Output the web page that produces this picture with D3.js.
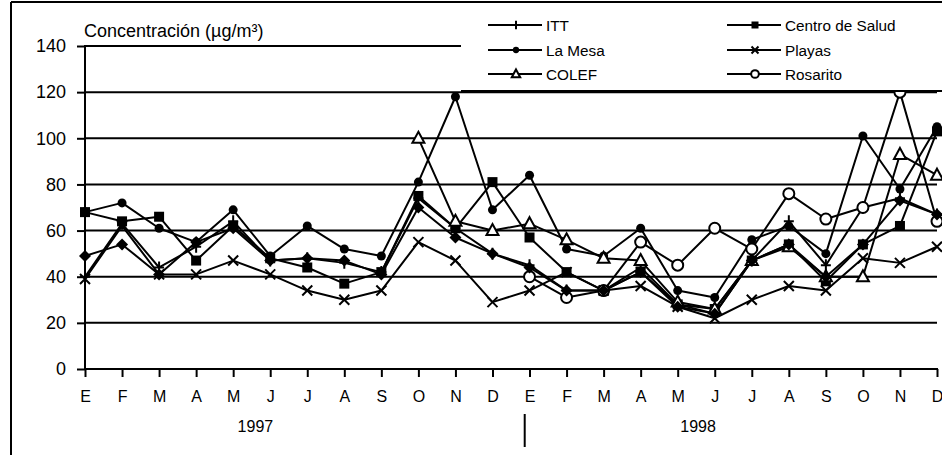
<!DOCTYPE html>
<html><head><meta charset="utf-8">
<script src="https://cdn.jsdelivr.net/npm/d3@7"></script>
<style>
html,body{margin:0;padding:0;background:#fff;}
svg{display:block;font-family:"Liberation Sans",Arial,sans-serif;}
</style></head>
<body>
<svg id="c" width="942" height="455"></svg>
<script>
// ---- data ----
const months = ["E","F","M","A","M","J","J","A","S","O","N","D","E","F","M","A","M","J","J","A","S","O","N","D"];
const years = ["1997","1998"];
const yTicks = [0,20,40,60,80,100,120,140];
const yTitle = "Concentración (µg/m³)";

const itt      = [40,63,44,53,64,47,48,46,42,74,61,50,45,34,34,44,28,24,47,64,45,70,74,67];
const centro   = [68,64,66,47,62,48,44,37,42,75,61,81,57,42,34,42,28,26,47,54,38,54,62,103];
const laMesa   = [68,72,61,55,69,49,62,52,49,81,118,69,84,52,49,61,34,31,56,62,50,101,78,105];
const playas   = [39,62,41,41,47,41,34,30,34,55,47,29,34,42,34,36,27,22,30,36,34,48,46,53];
const colef    = [null,null,null,null,null,null,null,null,null,100,64,60,63,56,48,47,29,26,47,53,40,40,93,84];
const rosarito = [null,null,null,null,null,null,null,null,null,null,null,null,40,31,34,55,45,61,52,76,65,70,120,64];
const sinLeyenda = [49,54,41,55,61,47,48,47,41,70,57,50,44,34,34,42,27,24,47,54,40,54,73,67];

const seriesNames = ["ITT","Centro de Salud","La Mesa","Playas","COLEF","Rosarito"];
const seriesValues = [itt, centro, laMesa, playas, colef, rosarito];
const seriesMarkers = ["plus","square","circle","times","triangle","ocircle"];

// ---- chart ----
const svg = d3.select("#c");
const x = d3.scalePoint().domain(d3.range(months.length)).range([85, 937]);
const xl = d3.scaleLinear().domain([0, months.length - 1]).range([85, 937]);
const y = d3.scaleLinear().domain([0, 140]).range([369, 46]);

// outer frame
svg.append("line").attr("x1",11).attr("x2",942).attr("y1",2).attr("y2",2).attr("stroke","#000").attr("stroke-width",2);
svg.append("line").attr("x1",11).attr("x2",11).attr("y1",2).attr("y2",455).attr("stroke","#000").attr("stroke-width",2);

// gridlines
svg.append("g").selectAll("line").data(yTicks.filter(d => d > 0)).join("line")
  .attr("x1", 85).attr("x2", 937)
  .attr("y1", d => y(d)).attr("y2", d => y(d))
  .attr("stroke", "#000").attr("stroke-width", 2);

// y axis
const ya = svg.append("g").attr("transform","translate(85,0)")
  .call(d3.axisLeft(y).tickValues(yTicks).tickSize(8).tickPadding(11));
ya.select(".domain").remove();
ya.selectAll(".tick line").attr("stroke","#000").attr("stroke-width",2);
ya.selectAll(".tick text").attr("font-size",18).attr("fill","#000")
  .attr("font-family","Liberation Sans, Arial, sans-serif");
svg.append("line").attr("x1",85).attr("x2",85).attr("y1",y(140)-1).attr("y2",y(0)+1).attr("stroke","#000").attr("stroke-width",2);

// x axis
const xa = svg.append("g").attr("transform",`translate(0,${y(0)})`)
  .call(d3.axisBottom(x).tickSize(8).tickPadding(14).tickFormat(i => months[i]));
xa.select(".domain").remove();
xa.selectAll(".tick line").attr("stroke","#000").attr("stroke-width",2);
xa.selectAll(".tick text").attr("font-size",16).attr("fill","#000")
  .attr("font-family","Liberation Sans, Arial, sans-serif");
svg.append("line").attr("x1",84).attr("x2",938).attr("y1",y(0)).attr("y2",y(0)).attr("stroke","#000").attr("stroke-width",2);

// year labels and separator
const yearPos = [4.6, 16.55];
svg.append("g").selectAll("text").data(years).join("text")
  .attr("x", (d,i) => xl(yearPos[i])).attr("y", 426)
  .attr("text-anchor","middle").attr("dominant-baseline","central")
  .attr("font-size",16).attr("fill","#000").text(d => d);
svg.append("line").attr("x1", xl(11.87)).attr("x2", xl(11.87)).attr("y1", 414).attr("y2", 447)
  .attr("stroke","#000").attr("stroke-width",2);

// marker drawing
function drawMarker(g, type, s) {
  s = s || 1;
  if (type === "square") {
    g.append("rect").attr("x",-5*s).attr("y",-5*s).attr("width",10*s).attr("height",10*s).attr("fill","#000");
  } else if (type === "circle") {
    g.append("circle").attr("r",4.5*s).attr("fill","#000");
  } else if (type === "diamond") {
    g.append("path").attr("d",`M0,${-6*s}L${6*s},0L0,${6*s}L${-6*s},0Z`).attr("fill","#000");
  } else if (type === "times") {
    g.append("path").attr("d",`M${-5*s},${-5*s}L${5*s},${5*s}M${-5*s},${5*s}L${5*s},${-5*s}`)
      .attr("stroke","#000").attr("stroke-width",2).attr("fill","none");
  } else if (type === "plus") {
    g.append("path").attr("d",`M0,${-6*s}V${6*s}M${-5*s},0H${5*s}`)
      .attr("stroke","#000").attr("stroke-width",2).attr("fill","none");
  } else if (type === "triangle") {
    g.append("path").attr("d",`M0,${-6.5*s}L${6*s},${4.5*s}L${-6*s},${4.5*s}Z`)
      .attr("stroke","#000").attr("stroke-width",2).attr("fill","#fff");
  } else if (type === "ocircle") {
    g.append("circle").attr("r",5.5*s).attr("stroke","#000").attr("stroke-width",2).attr("fill","#fff");
  }
}

const line = d3.line().defined(d => d != null).x((d,i) => x(i)).y(d => y(d));

const allSeries = seriesValues.map((v,i) => ({values: v, marker: seriesMarkers[i]}));
allSeries.push({values: sinLeyenda, marker: "diamond"});

const plot = svg.append("g");
allSeries.forEach(s => {
  plot.append("path").datum(s.values).attr("d", line)
    .attr("fill","none").attr("stroke","#000").attr("stroke-width",2).attr("stroke-linejoin","round");
});
allSeries.forEach(s => {
  s.values.forEach((v,i) => {
    if (v == null) return;
    const g = plot.append("g").attr("transform",`translate(${x(i)},${y(v)})`);
    drawMarker(g, s.marker);
  });
});

// legend
const lg = svg.append("g");
lg.append("rect").attr("x",461).attr("y",3).attr("width",481).attr("height",88).attr("fill","#fff");
lg.append("line").attr("x1",461).attr("x2",942).attr("y1",91).attr("y2",91).attr("stroke","#000").attr("stroke-width",2);
const rowsY = [25, 50, 74];
const colX = [488, 727];
seriesNames.forEach((name, i) => {
  const col = i % 2, row = Math.floor(i / 2);
  const x0 = colX[col], yy = rowsY[row];
  lg.append("line").attr("x1",x0).attr("x2",x0+54).attr("y1",yy).attr("y2",yy).attr("stroke","#000").attr("stroke-width",2);
  const m = lg.append("g").attr("transform",`translate(${x0+28},${yy})`);
  drawMarker(m, seriesMarkers[i], 0.7);
  lg.append("text").attr("x", x0+58).attr("y", yy).attr("dominant-baseline","central")
    .attr("font-size",15.3).attr("fill","#000").text(name);
});

// y title
svg.append("text").attr("x",84).attr("y",37).attr("font-size",18).attr("fill","#000").text(yTitle);
</script>
</body></html>
